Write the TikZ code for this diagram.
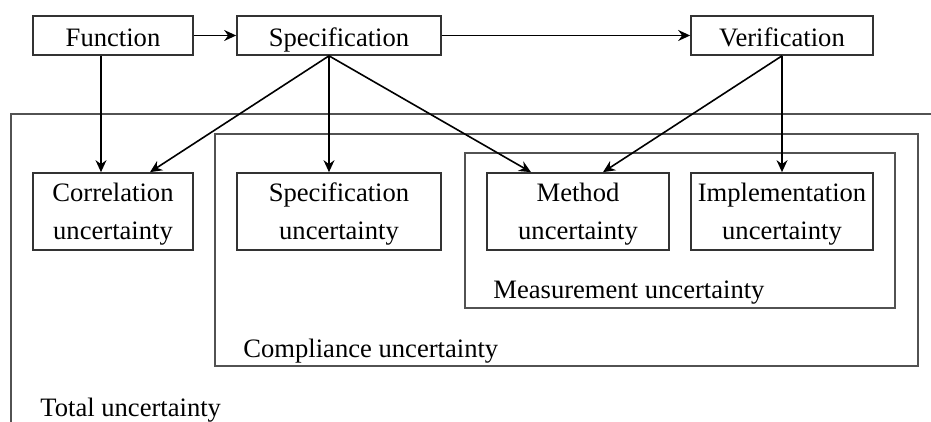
\documentclass[tikz,border=0pt]{standalone}
\usepackage{fontspec}
\setmainfont{Liberation Serif}
\usepackage{tikz}
\usetikzlibrary{positioning,arrows.meta,calc}
\definecolor{ulgray}{HTML}{333333}
\tikzset{
  box/.style    ={draw=ulgray, line width=0.85pt, inner sep=0pt,
                  minimum height=19.5pt, font=\fontsize{13.3}{19}\selectfont},
  tbox/.style   ={box, text height=13pt, text depth=1.5pt},
  ubox/.style   ={box, minimum height=38.5pt, align=center,
                  text height=28.5pt, text depth=0pt},
  group/.style  ={draw=ulgray!85, line width=0.9pt},
  glabel/.style ={anchor=base west, inner sep=0pt, font=\fontsize{13.3}{19}\selectfont},
  link/.style   ={-{Stealth[length=6pt,width=5.5pt,inset=2pt]}, line width=0.8pt},
}
\begin{document}
\begin{tikzpicture}[x=0.5pt,y=-0.5pt]
  \useasboundingbox (0,0) rectangle (931,422);
  % nested uncertainty groups
  \draw[group] (931,114) -- (11,114) -- (11,422);
  \draw[group] (215,134) rectangle (918,366);
  \draw[group] (465,153) rectangle (895,308);
  \node[glabel] (totl) at (40,416) {Total uncertainty};
  \node[glabel] (coml) at (243,357) {Compliance uncertainty};
  \node[glabel] (meal) at (493,299) {Measurement uncertainty};
  % top row
  \node[tbox, minimum width=80pt]  (fun)   at (113,35.5) {Function};
  \node[tbox, minimum width=102pt] (spec)  at (339,35.5) {Specification};
  \node[tbox, minimum width=91pt]  (verif) at (782,35.5) {Verification};
  % uncertainty boxes
  \node[ubox, minimum width=80pt]  (corr)  at (113,211.5) {Correlation\\uncertainty};
  \node[ubox, minimum width=102pt] (specu) at (339,211.5) {Specification\\uncertainty};
  \node[ubox, minimum width=91pt]  (meth)  at (578,211.5) {Method\\uncertainty};
  \node[ubox, minimum width=91pt]  (impl)  at (782,211.5) {Implementation\\uncertainty};
  % connector ends
  \coordinate (funout)  at (fun.south -| 101,0);
  \coordinate (specout) at (spec.south -| 329,0);
  \coordinate (corrin)  at (corr.north -| 101,0);
  \coordinate (corrin2) at (corr.north -| 150,0);
  \coordinate (specuin) at (specu.north -| 329,0);
  \coordinate (methin)  at (meth.north -| 531,0);
  \coordinate (methin2) at (meth.north -| 603,0);
  \draw[link] (fun) -- (spec);
  \draw[link] (spec) -- (verif);
  \draw[link] (funout) -- (corrin);
  \draw[link] (specout) -- (corrin2);
  \draw[link] (specout) -- (specuin);
  \draw[link] (specout) -- (methin);
  \draw[link] (verif.south) -- (methin2);
  \draw[link] (verif.south) -- (impl.north);
\end{tikzpicture}
\end{document}
